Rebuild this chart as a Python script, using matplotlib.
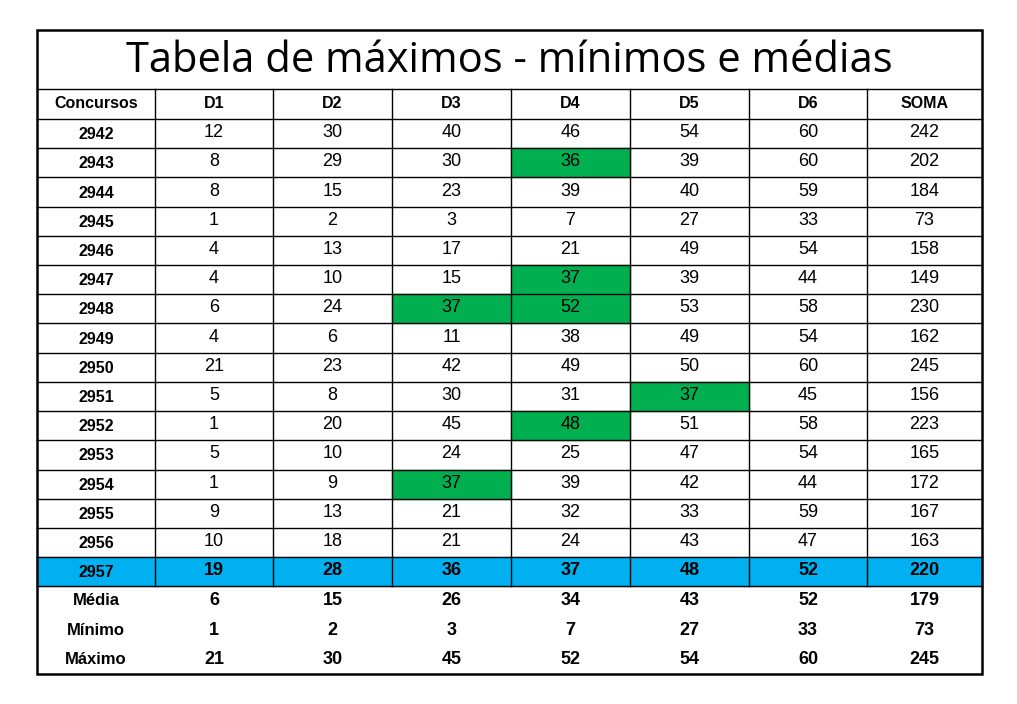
import matplotlib
matplotlib.use("Agg")
import matplotlib.pyplot as plt
from matplotlib.patches import Rectangle

title = "Tabela de máximos - mínimos e médias"
headers = ["Concursos", "D1", "D2", "D3", "D4", "D5", "D6", "SOMA"]
concursos = ["2942","2943","2944","2945","2946","2947","2948","2949","2950","2951","2952","2953","2954","2955","2956","2957"]
values = [
    [12,30,40,46,54,60,242],
    [8,29,30,36,39,60,202],
    [8,15,23,39,40,59,184],
    [1,2,3,7,27,33,73],
    [4,13,17,21,49,54,158],
    [4,10,15,37,39,44,149],
    [6,24,37,52,53,58,230],
    [4,6,11,38,49,54,162],
    [21,23,42,49,50,60,245],
    [5,8,30,31,37,45,156],
    [1,20,45,48,51,58,223],
    [5,10,24,25,47,54,165],
    [1,9,37,39,42,44,172],
    [9,13,21,32,33,59,167],
    [10,18,21,24,43,47,163],
    [19,28,36,37,48,52,220],
]
summary_labels = ["Média", "Mínimo", "Máximo"]
summary = [
    [6,15,26,34,43,52,179],
    [1,2,3,7,27,33,73],
    [21,30,45,52,54,60,245],
]
green_cells = [("2943",4),("2947",4),("2948",3),("2948",4),("2951",5),("2952",4),("2954",3)]
blue_row = "2957"

W, H = 1017, 704
fig = plt.figure(figsize=(W/100, H/100), dpi=100)
ax = fig.add_axes([0,0,1,1])
ax.set_xlim(0, W); ax.set_ylim(H, 0); ax.axis("off")

cols = [37,155,273,392,511,630,749,867,982]
top, title_bot, head_bot, bottom = 30, 89, 119, 674
nrows = len(concursos) + len(summary_labels)
rh = (bottom - head_bot) / nrows
rows_y = [head_bot + i*rh for i in range(nrows+1)]

# fills
for i, c in enumerate(concursos):
    y0 = rows_y[i]
    if c == blue_row:
        ax.add_patch(Rectangle((cols[0], y0), cols[-1]-cols[0], rh, color="#00b0f0", zorder=1))
for c, j in green_cells:
    i = concursos.index(c)
    ax.add_patch(Rectangle((cols[j], rows_y[i]), cols[j+1]-cols[j], rh, color="#00b050", zorder=1))

# grid lines
lw = 1.0
ax.plot([cols[0], cols[-1]], [title_bot, title_bot], color="black", lw=lw, zorder=2)
for y in rows_y[:len(concursos)+1]:
    ax.plot([cols[0], cols[-1]], [y, y], color="black", lw=lw, zorder=2)
for x in cols[1:-1]:
    ax.plot([x, x], [title_bot, rows_y[len(concursos)]], color="black", lw=lw, zorder=2)
ax.add_patch(Rectangle((cols[0], top), cols[-1]-cols[0], bottom-top, fill=False, ec="black", lw=1.8, zorder=3))

ax.text((cols[0]+cols[-1])/2, (top+title_bot)/2+2, title, ha="center", va="center",
        fontsize=30, family="Open Sans", zorder=4)
for j, h in enumerate(headers):
    ax.text((cols[j]+cols[j+1])/2, (title_bot+head_bot)/2, h, ha="center", va="center",
            fontsize=11.5, fontweight="bold", family="Liberation Sans", zorder=4)

for i, c in enumerate(concursos):
    yc = rows_y[i] + rh/2 + 1
    bold = c == blue_row
    ax.text((cols[0]+cols[1])/2, yc, c, ha="center", va="center", fontsize=11.5,
            fontweight="bold", family="Liberation Sans", zorder=4)
    for j, v in enumerate(values[i]):
        ax.text((cols[j+1]+cols[j+2])/2, yc-2, str(v), ha="center", va="center", fontsize=13,
                fontweight="bold" if bold else "normal", family="Liberation Sans", zorder=4)
for k, lab in enumerate(summary_labels):
    i = len(concursos) + k
    yc = rows_y[i] + rh/2
    ax.text((cols[0]+cols[1])/2, yc, lab, ha="center", va="center", fontsize=12,
            fontweight="bold", family="Liberation Sans", zorder=4)
    for j, v in enumerate(summary[k]):
        ax.text((cols[j+1]+cols[j+2])/2, yc, str(v), ha="center", va="center", fontsize=13,
                fontweight="bold", family="Liberation Sans", zorder=4)

fig.savefig("out.png", dpi=100, facecolor="white")
